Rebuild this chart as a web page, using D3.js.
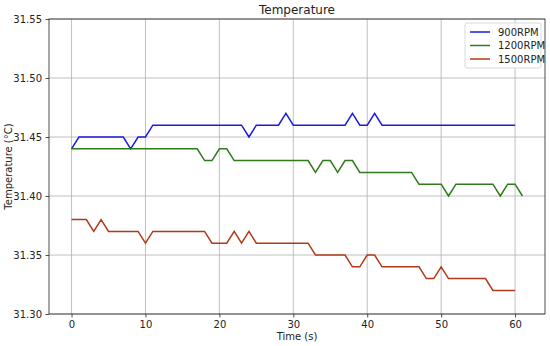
<!DOCTYPE html>
<html>
<head>
<meta charset="utf-8">
<script src="https://cdn.jsdelivr.net/npm/d3@7"></script>
<style>
  body { margin: 0; background: #fff; }
  text { font-family: "DejaVu Sans", sans-serif; fill: #222; }
</style>
</head>
<body>
<div class="svgtarget"></div>
<script>
// readings, one per second
var times = d3.range(0, 62);
var rpm900 = [31.44,31.45,31.45,31.45,31.45,31.45,31.45,31.45,31.44,31.45,
              31.45,31.46,31.46,31.46,31.46,31.46,31.46,31.46,31.46,31.46,
              31.46,31.46,31.46,31.46,31.45,31.46,31.46,31.46,31.46,31.47,
              31.46,31.46,31.46,31.46,31.46,31.46,31.46,31.46,31.47,31.46,
              31.46,31.47,31.46,31.46,31.46,31.46,31.46,31.46,31.46,31.46,
              31.46,31.46,31.46,31.46,31.46,31.46,31.46,31.46,31.46,31.46,
              31.46];
var rpm1200 = [31.44,31.44,31.44,31.44,31.44,31.44,31.44,31.44,31.44,31.44,
               31.44,31.44,31.44,31.44,31.44,31.44,31.44,31.44,31.43,31.43,
               31.44,31.44,31.43,31.43,31.43,31.43,31.43,31.43,31.43,31.43,
               31.43,31.43,31.43,31.42,31.43,31.43,31.42,31.43,31.43,31.42,
               31.42,31.42,31.42,31.42,31.42,31.42,31.42,31.41,31.41,31.41,
               31.41,31.40,31.41,31.41,31.41,31.41,31.41,31.41,31.40,31.41,
               31.41,31.40];
var rpm1500 = [31.38,31.38,31.38,31.37,31.38,31.37,31.37,31.37,31.37,31.37,
               31.36,31.37,31.37,31.37,31.37,31.37,31.37,31.37,31.37,31.36,
               31.36,31.36,31.37,31.36,31.37,31.36,31.36,31.36,31.36,31.36,
               31.36,31.36,31.36,31.35,31.35,31.35,31.35,31.35,31.34,31.34,
               31.35,31.35,31.34,31.34,31.34,31.34,31.34,31.34,31.33,31.33,
               31.34,31.33,31.33,31.33,31.33,31.33,31.33,31.32,31.32,31.32,
               31.32];
var seriesNames = ["900RPM", "1200RPM", "1500RPM"];
var seriesColors = ["#1a1ae0", "#2e7a1c", "#b03a16"];
var xTicks = [0, 10, 20, 30, 40, 50, 60];
var yTicks = [31.30, 31.35, 31.40, 31.45, 31.50, 31.55];

var W = 550, H = 346;
var m = {left: 49, right: 5, top: 19, bottom: 32};

var svg = d3.select(".svgtarget").append("svg")
    .attr("width", W).attr("height", H);

var x = d3.scaleLinear().domain([-3.05, 64.05]).range([m.left, W - m.right]);
var y = d3.scaleLinear().domain([31.30, 31.55]).range([H - m.bottom, m.top]);

// grid
svg.append("g").selectAll("line").data(xTicks).enter().append("line")
    .attr("x1", d => x(d)).attr("x2", d => x(d))
    .attr("y1", m.top).attr("y2", H - m.bottom)
    .attr("stroke", "#b0b0b0").attr("stroke-width", 0.8);
svg.append("g").selectAll("line").data(yTicks).enter().append("line")
    .attr("x1", m.left).attr("x2", W - m.right)
    .attr("y1", d => y(d)).attr("y2", d => y(d))
    .attr("stroke", "#b0b0b0").attr("stroke-width", 0.8);

// axes
var xAxis = svg.append("g").attr("transform", "translate(0," + (H - m.bottom) + ")")
    .call(d3.axisBottom(x).tickValues(xTicks).tickSize(3.5).tickPadding(3.5));
var yAxis = svg.append("g").attr("transform", "translate(" + m.left + ",0)")
    .call(d3.axisLeft(y).tickValues(yTicks).tickFormat(d3.format(".2f")).tickSize(3.5).tickPadding(3.5));
[xAxis, yAxis].forEach(function(a) {
    a.select(".domain").remove();
    a.selectAll("text").style("font-size", "10px").attr("fill", "#222");
    a.selectAll("line").attr("stroke", "#222").attr("stroke-width", 0.8);
});

svg.append("rect")
    .attr("x", m.left).attr("y", m.top)
    .attr("width", W - m.left - m.right).attr("height", H - m.top - m.bottom)
    .attr("fill", "none").attr("stroke", "#222").attr("stroke-width", 0.8);

// lines
var allSeries = [rpm900, rpm1200, rpm1500];
var line = d3.line().x((d, i) => x(times[i])).y(d => y(d));
allSeries.forEach(function(s, k) {
    svg.append("path").datum(s)
        .attr("d", line)
        .attr("fill", "none")
        .attr("stroke", seriesColors[k])
        .attr("stroke-width", 1.5);
});

// titles
svg.append("text").attr("x", (m.left + W - m.right) / 2).attr("y", 14)
    .attr("text-anchor", "middle").style("font-size", "12px").text("Temperature");
svg.append("text").attr("x", (m.left + W - m.right) / 2).attr("y", 340)
    .attr("text-anchor", "middle").style("font-size", "10px").text("Time (s)");
svg.append("text")
    .attr("transform", "translate(12," + ((m.top + H - m.bottom) / 2) + ") rotate(-90)")
    .attr("text-anchor", "middle").style("font-size", "10px").text("Temperature (°C)");

// legend
var lg = svg.append("g").attr("transform", "translate(465,23)");
lg.append("rect").attr("width", 76).attr("height", 45).attr("rx", 2)
    .attr("fill", "#fff").attr("fill-opacity", 0.8)
    .attr("stroke", "#d0d0d0").attr("stroke-width", 0.8);
seriesNames.forEach(function(n, k) {
    var yy = 9 + k * 13.5;
    lg.append("line").attr("x1", 5).attr("x2", 25).attr("y1", yy).attr("y2", yy)
        .attr("stroke", seriesColors[k]).attr("stroke-width", 1.5);
    lg.append("text").attr("x", 33).attr("y", yy + 3.5)
        .style("font-size", "10px").text(n);
});
</script>
</body>
</html>
